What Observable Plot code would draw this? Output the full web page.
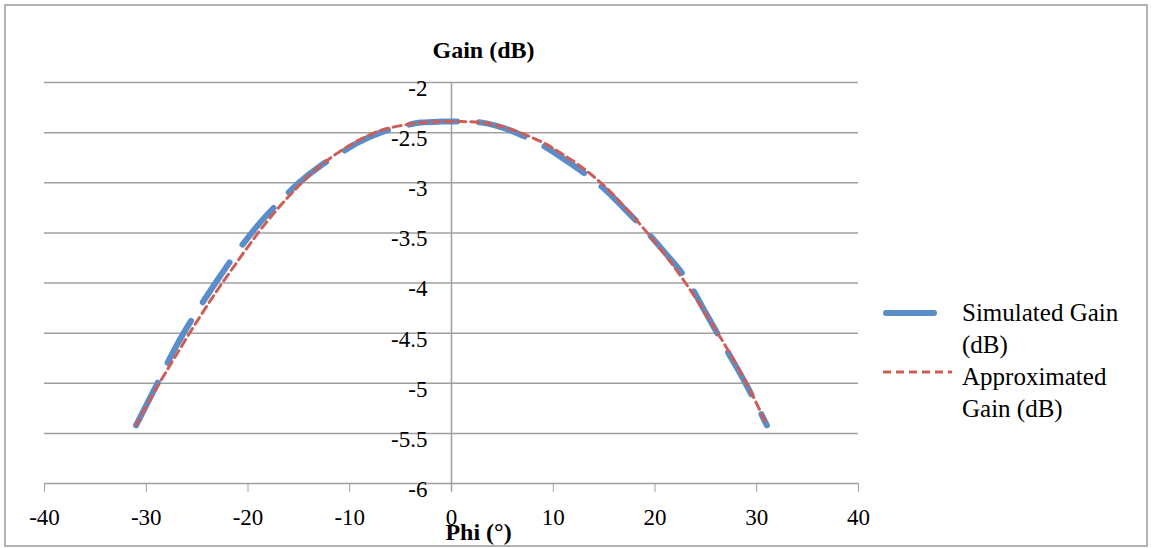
<!DOCTYPE html>
<html>
<head>
<meta charset="utf-8">
<script src="https://cdn.jsdelivr.net/npm/d3@7"></script>
<script src="https://cdn.jsdelivr.net/npm/@observablehq/plot@0.6"></script>
<style>
  html, body { margin: 0; padding: 0; background: #fff; }
  #wrap { position: relative; width: 1153px; height: 548px; font-family: "Liberation Serif", "Times New Roman", serif; }
  #legend { position: absolute; left: 880px; top: 297px; font-size: 25px; line-height: 32px; color: #000; }
  .row { display: flex; align-items: flex-start; }
  .row svg { flex: none; }
  .row span { margin-left: 10px; width: 172px; }
</style>
</head>
<body>
<div id="wrap"></div>
<script>
// Data
const phi = [-31,-29,-27,-25,-23,-21,-19,-17,-15,-13,-11,-9,-7,-5,-3,-1,1,3,5,7,9,11,13,15,17,19,21,23,25,27,29,31];
const simulatedGain = [-5.42,-5.02,-4.62,-4.28,-3.97,-3.68,-3.42,-3.20,-3.00,-2.84,-2.71,-2.59,-2.50,-2.44,-2.40,-2.39,-2.39,-2.40,-2.45,-2.53,-2.63,-2.76,-2.90,-3.06,-3.26,-3.47,-3.70,-3.95,-4.30,-4.66,-5.02,-5.42];
const approxGain = [-5.42,-5.05,-4.71,-4.38,-4.07,-3.78,-3.50,-3.25,-3.03,-2.84,-2.69,-2.57,-2.48,-2.43,-2.40,-2.39,-2.39,-2.40,-2.44,-2.51,-2.60,-2.72,-2.86,-3.03,-3.24,-3.47,-3.72,-4.00,-4.31,-4.64,-5.00,-5.42];
const xTicks = [-40,-30,-20,-10,0,10,20,30,40];
const yTicks = [-2,-2.5,-3,-3.5,-4,-4.5,-5,-5.5,-6];
const seriesNames = ["Simulated Gain (dB)", "Approximated Gain (dB)"];

const sim = phi.map((x, i) => ({x, y: simulatedGain[i]}));
const apx = phi.map((x, i) => ({x, y: approxGain[i]}));

const font = "'Liberation Serif', 'Times New Roman', serif";
const chart = Plot.plot({
  width: 1153,
  height: 548,
  marginLeft: 44,
  marginRight: 295,
  marginTop: 82,
  marginBottom: 65,
  style: {fontFamily: font, fontSize: "23px", color: "#000", background: "#fff"},
  x: {domain: [-40, 40], axis: null},
  y: {type: "linear", domain: [-6, -2], axis: null},
  marks: [
    Plot.ruleY(yTicks, {y: d => d, stroke: "#a0a0a0", strokeWidth: 1.5}),
    Plot.ruleX([0], {x: d => d, y1: -6.08, y2: -2, stroke: "#a0a0a0", strokeWidth: 1.5}),
    Plot.axisX({ticks: xTicks, tickFormat: d => String(d), tickSize: 9, tickPadding: 16, stroke: "#a0a0a0", fill: "#000", fontSize: 23, fontFamily: font, label: null}),
    Plot.text(yTicks, {x: 0, y: d => d, text: d => String(d), dx: -24, dy: 6, textAnchor: "end", fontSize: 23, fontFamily: font, fill: "#000"}),
    Plot.line(sim, {x: "x", y: "y", stroke: "#5b8dc8", strokeWidth: 6, strokeDasharray: "48,22", strokeLinecap: "round", curve: "catmull-rom"}),
    Plot.line(apx, {x: "x", y: "y", stroke: "#cc5e57", strokeWidth: 3, strokeDasharray: "8,5", curve: "catmull-rom"}),
    Plot.text(["Gain (dB)"], {frameAnchor: "top", text: d => d, dx: 32, dy: -42, fontWeight: "bold", fontSize: 24, fontFamily: font, fill: "#000"}),
    Plot.text(["Phi (°)"], {frameAnchor: "bottom", text: d => d, dx: 27, dy: 56, fontWeight: "bold", fontSize: 24, fontFamily: font, fill: "#000"})
  ]
});
d3.select(chart).insert("rect", ":first-child")
  .attr("x", 5).attr("y", 5).attr("width", 1142).attr("height", 541)
  .attr("fill", "none").attr("stroke", "#9a9a9a").attr("stroke-width", 1.5);

const wrap = document.getElementById("wrap");
wrap.appendChild(chart);

const legend = document.createElement("div");
legend.id = "legend";
legend.innerHTML = `
  <div class="row"><svg width="72" height="32"><line x1="6" y1="16" x2="54" y2="16" stroke="#5b8dc8" stroke-width="6" stroke-linecap="round"/></svg><span>${seriesNames[0]}</span></div>
  <div class="row"><svg width="72" height="32"><line x1="3" y1="11" x2="72" y2="11" stroke="#cc5e57" stroke-width="3" stroke-dasharray="8,5"/></svg><span>${seriesNames[1]}</span></div>`;
wrap.appendChild(legend);
</script>
</body>
</html>
